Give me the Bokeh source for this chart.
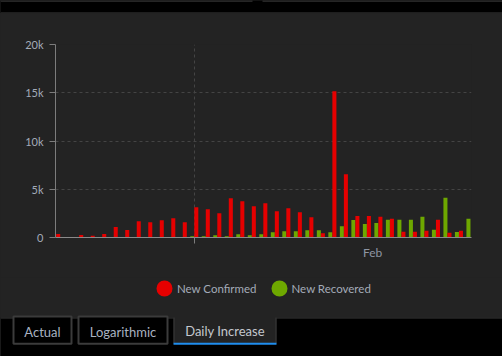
from datetime import date, timedelta

from bokeh.plotting import figure
from bokeh.models import (Range1d, FixedTicker, Legend, LegendItem, ColumnDataSource)
from bokeh.layouts import column
from bokeh.embed import file_html
from bokeh.resources import INLINE
from bokeh.transform import dodge
from bokeh.core.properties import value

# ---------------- data ----------------
start_day = date(2020, 1, 20)
new_confirmed = [370, 60, 270, 170, 370, 1100, 790, 1690, 1590, 1790, 2000, 1590,
                 3140, 2930, 2520, 4070, 3760, 3250, 3550, 2730, 3040, 2620, 2100,
                 450, 15160, 6560, 2230, 2230, 2140, 1940, 590, 590, 690, 1830, 490,
                 690, 0]
new_recovered = [0, 0, 10, 10, 20, 10, 20, 30, 40, 50, 40, 60,
                 140, 140, 240, 140, 340, 240, 340, 550, 650, 650, 760,
                 760, 550, 1170, 1810, 1400, 1500, 1830, 1830, 1830, 2140, 800, 4110,
                 570, 1940]
dates = [(start_day + timedelta(days=i)).isoformat() for i in range(len(new_confirmed))]
day_index = list(range(len(dates)))

y_ticks = [0, 5000, 10000, 15000, 20000]
y_tick_labels = ["0", "5k", "10k", "15k", "20k"]
month_grid_day = [12]          # Feb 1 gridline / tick
month_label_day = [27.5]
month_label = "Feb"
series_names = ["New Confirmed", "New Recovered"]
tab_labels = ["Actual", "Logarithmic", "Daily Increase"]

# ---------------- style ----------------
BG = "#232323"
RED = "#e60000"
GREEN = "#6ea800"
TXT = "#a3abb8"
GRID = "#444444"
AXIS = "#7c7c7c"
FONT = "Lato"
W = 502
MAIN_TOP, MAIN_BOTTOM = 13, 277

# ---------------- top strip ----------------
top = figure(width=W, height=MAIN_TOP, x_range=Range1d(0, W), y_range=Range1d(MAIN_TOP, 0),
             x_axis_type=None, y_axis_type=None, min_border=0, frame_align=False,
             background_fill_color="#000000", border_fill_color="#000000",
             outline_line_color=None, toolbar_location=None, output_backend="svg")
top.segment(x0=[0, 262], x1=[252, W], y0=[0.5, 0.5], y1=[0.5, 0.5],
            line_color="#4a4a4a", line_width=1)
top.segment(x0=[0], x1=[W], y0=[12.5], y1=[12.5], line_color="#3c3c3c", line_width=1)

# ---------------- main chart ----------------
src = ColumnDataSource(dict(x=day_index, date=dates, conf=new_confirmed, rec=new_recovered))

p = figure(width=W, height=MAIN_BOTTOM - MAIN_TOP,
           x_range=Range1d(-0.06, len(dates) - 1 + 0.09), y_range=Range1d(0, 20000),
           min_border_left=55, min_border_right=31, min_border_top=31, min_border_bottom=40,
           background_fill_color=BG, border_fill_color=BG, outline_line_color=None,
           toolbar_location=None, output_backend="svg")

p.vbar(x=dodge("x", -0.175, range=p.x_range), top="rec", width=0.35, source=src,
       fill_color=GREEN, line_color=None)
p.vbar(x=dodge("x", 0.175, range=p.x_range), top="conf", width=0.35, source=src,
       fill_color=RED, line_color=None)

# y axis
yax = p.yaxis[0]
yax.ticker = FixedTicker(ticks=y_ticks)
yax.major_label_overrides = {t: l for t, l in zip(y_ticks, y_tick_labels)}
yax.axis_line_color = AXIS
yax.major_tick_line_color = AXIS
yax.major_tick_out = 6
yax.major_tick_in = 0
yax.minor_tick_line_color = None
yax.major_label_standoff = 6
yax.major_label_text_color = TXT
yax.major_label_text_font = FONT
yax.major_label_text_font_size = "11px"

# x axis: "Feb" label as major tick (no mark), Feb-1 tick as minor mark
xax = p.xaxis[0]
xax.ticker = FixedTicker(ticks=month_label_day, minor_ticks=month_grid_day)
xax.major_label_overrides = {month_label_day[0]: month_label}
xax.axis_line_color = "#8a8a8a"
xax.major_tick_line_color = None
xax.major_tick_out = 0
xax.major_tick_in = 0
xax.minor_tick_line_color = AXIS
xax.minor_tick_out = 6
xax.minor_tick_in = 0
xax.major_label_standoff = 1
xax.major_label_text_color = "#8e96a3"
xax.major_label_text_font = FONT
xax.major_label_text_font_size = "12px"

p.ygrid.ticker = FixedTicker(ticks=y_ticks[1:])
p.ygrid.grid_line_color = GRID
p.ygrid.grid_line_dash = "3 3"
p.xgrid.ticker = FixedTicker(ticks=month_grid_day)
p.xgrid.grid_line_color = GRID
p.xgrid.grid_line_dash = "3 3"

# ---------------- legend + tabs ----------------
bot = figure(width=W, height=356 - MAIN_BOTTOM, x_range=Range1d(0, W),
             y_range=Range1d(356, MAIN_BOTTOM),
             x_axis_type=None, y_axis_type=None, min_border=0, frame_align=False,
             background_fill_color=BG, border_fill_color=BG,
             outline_line_color=None, toolbar_location=None, output_backend="svg")

# legend proxies (single off-canvas point each, only used for the legend icon)
r_conf = bot.scatter(x=[-1000], y=[-1000], marker="circle", size=10,
                     fill_color=RED, line_color=RED, line_width=5.6)
r_rec = bot.scatter(x=[-1000], y=[-1000], marker="circle", size=10,
                    fill_color=GREEN, line_color=GREEN, line_width=5.6)
legend = Legend(items=[LegendItem(label=series_names[0], renderers=[r_conf]),
                       LegendItem(label=series_names[1], renderers=[r_rec])],
                orientation="horizontal", location=(151, 55),
                glyph_width=26, glyph_height=26, label_standoff=0, spacing=9,
                padding=0, margin=0, background_fill_alpha=0, border_line_color=None,
                label_text_color=TXT, label_text_font=FONT, label_text_font_size="11.5px")
bot.add_layout(legend, "center")

bot.quad(left=[0], right=[W], top=[317], bottom=[356], fill_color="#000000", line_color=None)
bot.segment(x0=[0], x1=[W], y0=[317.5], y1=[317.5], line_color="#3a3a3a", line_width=1)
tab_left = [13, 78, 173]
tab_right = [71, 167, 276]
bot.quad(left=tab_left[:2], right=tab_right[:2], top=[316, 316], bottom=[343.3, 343.3],
         fill_color="#000000", line_color="#3b3b3b", line_width=2)
bot.quad(left=[tab_left[2]], right=[tab_right[2]], top=[317], bottom=[342.5],
         fill_color=BG, line_color=None)
bot.segment(x0=[173.5, 275.5], x1=[173.5, 275.5], y0=[317, 317], y1=[343, 343],
            line_color="#3b3b3b", line_width=1)
bot.quad(left=[173], right=[276], top=[342.3], bottom=[344.3], fill_color="#1f8ded",
         line_color=None)
bot.text(x=[(l + r) / 2 for l, r in zip(tab_left, tab_right)], y=[331, 331, 330.5],
         text=tab_labels, text_align="center", text_baseline="middle",
         text_color=["#a9b3c2", "#a9b3c2", "#c4c8ce"], text_font=value(FONT),
         text_font_size="13px")

layout = column(top, p, bot, spacing=0, styles={"background-color": BG})
open("out.html", "w").write(file_html(layout, INLINE))
